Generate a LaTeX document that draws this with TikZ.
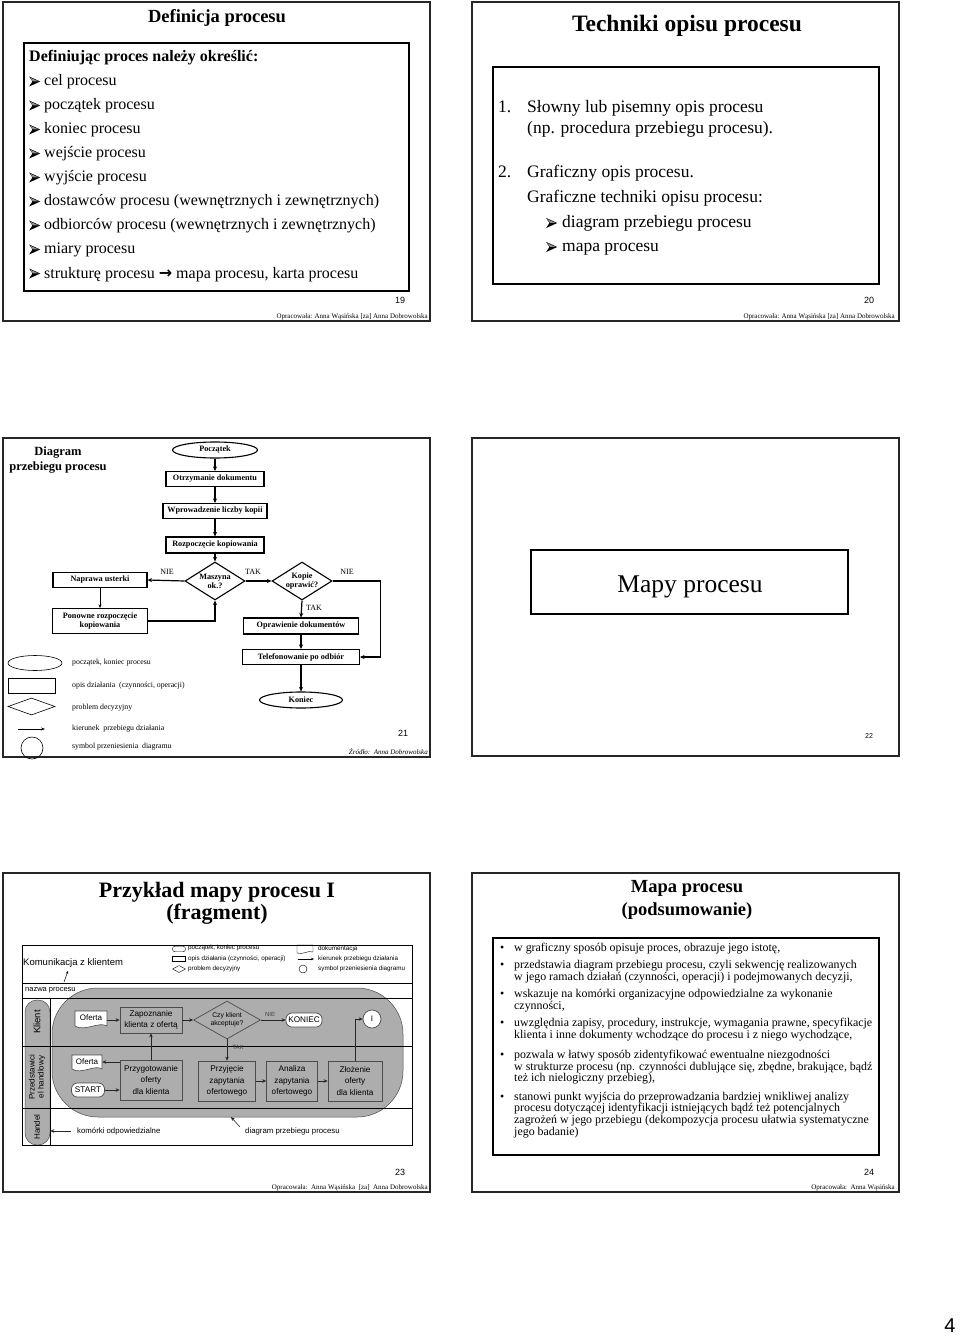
\documentclass[tikz,border=0pt]{standalone}
\usepackage{fontspec}
\setmainfont{Liberation Serif}
\newfontfamily\arial{Liberation Sans}
\newfontfamily\dejavu{DejaVu Sans}
\usetikzlibrary{shapes.geometric,arrows.meta,calc}
\newcommand{\fs}[2]{\fontsize{#1}{#2}\selectfont}
\newcommand{\barr}{\tikz[x=1pt,y=1pt,baseline=0pt]{\fill[black] (0,-0.5) -- (11,4.5) -- (0,9.5) -- (3.2,4.5) -- cycle; \fill[black!45] (0.9,8.4) -- (9.2,4.7) -- (3.6,4.7) -- cycle;}}
\definecolor{areag}{gray}{0.68}
\definecolor{boxl}{gray}{0.3}
\begin{document}
\begin{tikzpicture}[x=1pt,y=-1pt,
  frame/.style={draw=black!85, line width=1.5pt},
  ibox/.style={draw=black, line width=1.3pt},
  fcb/.style={draw, line width=1.1pt, font=\bfseries\fs{8.2}{9}, inner sep=1pt, align=center},
  fce/.style={fcb, ellipse, inner sep=0pt},
  fcd/.style={fcb, diamond, aspect=1.6, inner sep=0pt},
  fca/.style={line width=1.2pt, -{Stealth[length=4.5pt,width=4pt]}},
  fcl/.style={font=\fs{8}{9}, inner sep=0pt},
  lgt/.style={anchor=west, font=\fs{7.8}{9}, inner sep=0pt},
  lgs/.style={draw, line width=0.6pt, inner sep=0pt},
  pnum/.style={font=\arial\fs{9}{10}, inner sep=0pt},
  foot/.style={anchor=base east, font=\fs{7}{8}, inner sep=0pt},
  bl/.style={anchor=base west, inner sep=0pt},
  mbox/.style={draw=boxl, fill=areag, line width=0.7pt, font=\arial\fs{8.2}{11.5}, align=center, inner sep=0pt},
  mround/.style={draw=boxl, fill=white, rounded corners=6, line width=0.7pt, font=\arial\fs{8.2}{9}, inner sep=0pt},
  mar/.style={line width=0.6pt, draw=black!85, -{Stealth[length=4pt,width=3.5pt]}},
  sml/.style={anchor=west, font=\arial\fs{6.3}{7}, inner sep=0pt},
  b24/.style={anchor=base west, inner sep=0pt, font=\fs{11.9}{12}}
]
\useasboundingbox[fill=white] (0,0) rectangle (960,1340);

%% ---------------- slide 19
\draw[frame] (3,2) rectangle (430,321);
\node[anchor=base, font=\bfseries\fs{18.5}{20}] (t19) at (217,22.5) {Definicja procesu};
\draw[ibox] (24,43) rectangle (409,291);
\node[bl, font=\bfseries\fs{16}{18}] (h19) at (29,62) {Definiując proces należy określić:};
\foreach \t [count=\i] in {cel procesu, początek procesu, koniec procesu, wejście procesu, wyjście procesu, dostawców procesu (wewnętrznych i zewnętrznych), odbiorców procesu (wewnętrznych i zewnętrznych), miary procesu, {strukturę procesu {\dejavu\bfseries →} mapa procesu, karta procesu}}
  \node[bl, font=\fs{16}{18}] (b19-\i) at (29,{62+24*\i}) {\barr\hspace{4pt}\t};
\node[pnum] (n19) at (400,300) {19};
\node[foot] (f19) at (428,318.5) {Opracowała: Anna Wąsińska [za] Anna Dobrowolska};

%% ---------------- slide 20
\draw[frame] (472,2) rectangle (899,321);
\node[anchor=base, font=\bfseries\fs{23.5}{25}] (t20) at (687,32) {Techniki opisu procesu};
\draw[ibox] (493,67) rectangle (879,284);
\node[bl, font=\fs{17.5}{19}] (s20a) at (498,112.5) {1.};
\node[bl, font=\fs{17.5}{19}] (s20b) at (527,112.5) {Słowny lub pisemny opis procesu};
\node[bl, font=\fs{17.5}{19}] (s20c) at (527,133.5) {(np. procedura przebiegu procesu).};
\node[bl, font=\fs{17.5}{19}] (s20d) at (498,177.5) {2.};
\node[bl, font=\fs{17.5}{19}] (s20e) at (527,177.5) {Graficzny opis procesu.};
\node[bl, font=\fs{17.5}{19}] (s20f) at (527,203) {Graficzne techniki opisu procesu:};
\node[bl, font=\fs{17.5}{19}] (s20g) at (546,227.5) {\barr\hspace{5pt}diagram przebiegu procesu};
\node[bl, font=\fs{17.5}{19}] (s20h) at (546,251.5) {\barr\hspace{5pt}mapa procesu};
\node[pnum] (n20) at (869,300) {20};
\node[foot] (f20) at (895,318.5) {Opracowała: Anna Wąsińska [za] Anna Dobrowolska};

%% ---------------- slide 21
\draw[frame] (3,438) rectangle (430,757);
\node[anchor=base, font=\bfseries\fs{12.5}{14}] (t21a) at (58,455.5) {Diagram};
\node[anchor=base, font=\bfseries\fs{12.5}{14}] (t21b) at (58,470) {przebiegu procesu};
\node[fce, minimum width=85, minimum height=16] (pocz) at (215,450) {Początek};
\node[fcb, minimum width=98, minimum height=15] (otrz) at (215,479) {Otrzymanie dokumentu};
\node[fcb, minimum width=104, minimum height=15] (wpro) at (215,511) {Wprowadzenie liczby kopii};
\node[fcb, minimum width=98, minimum height=16] (rozp) at (215,545) {Rozpoczęcie kopiowania};
\node[fcd, minimum width=60, minimum height=38] (masz) at (215,581) {Maszyna\\ok.?};
\node[fcb, minimum width=94, minimum height=15] (nap) at (100,580) {Naprawa usterki};
\node[fcb, minimum width=95, minimum height=25] (pon) at (100,621) {Ponowne rozpoczęcie\\kopiowania};
\node[fcd, minimum width=60, minimum height=38] (kop) at (302,581) {Kopie\\oprawić?};
\node[fcb, minimum width=115, minimum height=16] (opr) at (301,626) {Oprawienie dokumentów};
\node[fcb, minimum width=117, minimum height=15] (tel) at (301,657) {Telefonowanie po odbiór};
\node[fce, minimum width=83, minimum height=16] (kon) at (301,700) {Koniec};
\draw[fca] (pocz) -- (otrz);
\draw[fca] (otrz) -- (wpro);
\draw[fca] (wpro) -- (rozp);
\draw[fca] (rozp) -- (masz);
\draw[fca] (masz.west) -- (nap.east);
\draw[fca] (masz.east) -- (kop.west);
\draw[line width=0.6pt, -{Stealth[length=3.5pt,width=3pt]}] (nap) -- (pon);
\draw[fca] (pon.east) -| (masz.south);
\draw[fca] (kop.east) -- ++(48,0) |- (tel.east);
\draw[fca] (kop.south) -- (opr.north);
\draw[fca] (opr) -- (tel);
\draw[fca] (tel) -- (kon);
\node[fcl] (l21a) at (167,572) {NIE};
\node[fcl] (l21b) at (253,572) {TAK};
\node[fcl] (l21c) at (347,572) {NIE};
\node[fcl] (l21d) at (314,608) {TAK};
% legend
\node[lgs, ellipse, minimum width=54, minimum height=15] (le1) at (35,663) {};
\node[lgs, minimum width=47, minimum height=15] (le2) at (31.5,685.5) {};
\node[lgs, diamond, minimum width=47, minimum height=17] (le3) at (31.5,706.5) {};
\coordinate (la1) at (18,729);
\coordinate (la2) at (45,729);
\draw[line width=0.6pt, -{Stealth[length=4pt,width=3pt]}] (la1) -- (la2);
\node[lgs, circle, minimum size=22] (le5) at (32,748) {};
\node[lgt] (lt1) at (72,663) {początek, koniec procesu};
\node[lgt] (lt2) at (72,686) {opis działania\ \ (czynności, operacji)};
\node[lgt] (lt3) at (72,708) {problem decyzyjny};
\node[lgt] (lt4) at (72,729) {kierunek\ \ przebiegu działania};
\node[lgt] (lt5) at (72,747) {symbol przeniesienia\ \ diagramu};
\node[pnum] (n21) at (403,733) {21};
\node[foot, font=\itshape\fs{7}{8}] (f21) at (428,754) {Źródło:\ \ Anna Dobrowolska};

%% ---------------- slide 22
\draw[frame] (472,438) rectangle (899,756);
\draw[ibox] (531,550) rectangle (848,614);
\node[anchor=base, font=\fs{25.5}{27}] (t22) at (690,592) {Mapy procesu};
\node[font=\arial\fs{7}{8}, inner sep=0pt] (n22) at (869,736) {22};

%% ---------------- slide 23
\draw[frame] (3,873) rectangle (430,1192);
\node[anchor=base, font=\bfseries\fs{22}{24}] (t23a) at (217,897.5) {Przykład\ mapy procesu I};
\node[anchor=base, font=\bfseries\fs{22}{24}] (t23b) at (217,919.5) {(fragment)};
\node[draw=boxl, fill=areag, rounded corners=46, minimum width=351, minimum height=129, inner sep=0pt, line width=0.5pt] (area) at (227.5,1052.5) {};
\node[draw=boxl, fill=areag, rounded corners=12, minimum width=25, minimum height=145, inner sep=0pt, line width=0.5pt] (pill) at (37.5,1072.5) {};
\draw[line width=0.7pt] (22,983) -- (412,983);
\draw[line width=0.7pt] (22,998) -- (412,998);
\draw[line width=0.7pt] (22,1046) -- (412,1046);
\draw[line width=0.7pt] (22,1108) -- (412,1108);
\draw[line width=0.7pt] (50,998) -- (50,1145);
\draw[line width=0.8pt] (22,945) rectangle (412,1145);
\node[rotate=90, font=\arial\fs{9.5}{10}] (lk) at (37,1022) {Klient};
\node[rotate=90, font=\arial\fs{8}{9}, align=center] (lp) at (37,1077) {Przedstawici\\el handlowy};
\node[rotate=90, font=\arial\fs{8}{9}] (lh) at (37,1127) {Handel};
% header
\node[anchor=west, font=\arial\fs{9.5}{10}, inner sep=0pt] (kzk) at (23,963) {Komunikacja z klientem};
\node[anchor=west, font=\arial\fs{7.5}{8}, inner sep=0pt] (npr) at (25,990) {nazwa procesu};
\coordinate (npa) at (64,982);
\coordinate (npb) at (68,971);
\draw[line width=0.5pt, -{Stealth[length=3pt,width=2.5pt]}] (npa) -- (npb);
\node[draw, rounded corners=2.5, minimum width=13, minimum height=5.5, inner sep=0pt, line width=0.4pt] (hl1) at (179,949) {};
\node[draw, minimum width=13, minimum height=5, inner sep=0pt, line width=0.4pt] (hl2) at (179,959) {};
\node[draw, diamond, minimum width=13, minimum height=7, inner sep=0pt, line width=0.4pt] (hl3) at (179,969) {};
\node[sml] (ht1) at (188,948) {początek, koniec procesu};
\node[sml] (ht2) at (188,959) {opis działania (czynności, operacji)};
\node[sml] (ht3) at (188,969) {problem decyzyjny};
\draw[line width=0.4pt] (297,945) -- (313,945) -- (313,952) .. controls (308,950) and (303,955) .. (297,953) -- cycle;
\coordinate (ha1) at (298,959);
\coordinate (ha2) at (314,959);
\draw[line width=0.4pt, -{Stealth[length=3pt,width=2.5pt]}] (ha1) -- (ha2);
\node[draw, circle, minimum size=8, inner sep=0pt, line width=0.4pt] (hl6) at (303,969) {};
\node[sml] (ht4) at (318,949) {dokumentacja};
\node[sml] (ht5) at (318,959) {kierunek przebiegu działania};
\node[sml] (ht6) at (318,969) {symbol przeniesienia diagramu};
% lane elements
\draw[draw=boxl, fill=white, line width=0.6pt] (75,1011) -- (107,1011) -- (107,1026) .. controls (99,1021) and (85,1032) .. (75,1026) -- cycle;
\node[minimum width=32, minimum height=14, inner sep=0pt, font=\arial\fs{8}{9}] (of1) at (91,1018) {Oferta};
\draw[draw=boxl, fill=white, line width=0.6pt] (72,1055) -- (102,1055) -- (102,1069) .. controls (95,1064) and (81,1075) .. (72,1069) -- cycle;
\node[minimum width=30, minimum height=14, inner sep=0pt, font=\arial\fs{8}{9}] (of2) at (87,1062) {Oferta};
\node[mbox, minimum width=62, minimum height=26] (zap) at (151,1020) {Zapoznanie\\klienta z ofertą};
\node[draw=boxl, fill=areag, diamond, aspect=1.8, minimum width=67, minimum height=38, inner sep=0pt, line width=0.7pt, font=\arial\fs{6.8}{8}, align=center] (czy) at (227,1020) {Czy klient\\akceptuje?};
\node[mround, minimum width=36, minimum height=14] (konc) at (304,1020) {KONIEC};
\node[draw=boxl, fill=white, circle, minimum size=18, inner sep=0pt, line width=0.7pt, font=\arial\fs{8}{9}] (ci) at (372,1019) {I};
\node[mround, minimum width=33, minimum height=14] (start) at (88,1090) {START};
\node[mbox, minimum width=62, minimum height=40] (przyg) at (151,1080) {Przygotowanie\\oferty\\dla klienta};
\node[mbox, minimum width=57, minimum height=40] (przyj) at (227,1081) {Przyjęcie\\zapytania\\ofertowego};
\node[mbox, minimum width=51, minimum height=40] (anal) at (292,1081) {Analiza\\zapytania\\ofertowego};
\node[mbox, minimum width=54, minimum height=40] (zloz) at (355,1081) {Złożenie\\oferty\\dla klienta};
\draw[mar] (of1.east |- zap.west) -- (zap.west);
\draw[mar] (zap.east) -- (czy.west);
\draw[mar] (czy.east) -- (konc.west);
\draw[mar] (zloz.north) |- (ci.west);
\draw[mar] (przyg.north) -- (zap.south);
\draw[mar] (of2.east -| przyg.west) -- (of2.east);
\draw[mar] (start.east) -- (start.east -| przyg.west);
\draw[mar] (czy.south) -- (przyj.north);
\draw[mar] (przyj.east) -- (anal.west);
\draw[mar] (anal.east) -- (zloz.west);
\node[font=\arial\fs{6}{7}, text=black!75, inner sep=0pt] (nie23) at (270,1014) {NIE};
\node[font=\arial\fs{6}{7}, text=black!75, inner sep=0pt] (tak23) at (238,1047) {TAK};
\node[anchor=west, font=\arial\fs{7.8}{9}, inner sep=0pt] (kom) at (77,1131) {komórki odpowiedzialne};
\draw[mar] ([xshift=-6pt]kom.west) -- (kom.west -| pill.east);
\node[anchor=west, font=\arial\fs{7.8}{9}, inner sep=0pt] (dpp) at (245,1131) {diagram przebiegu procesu};
\coordinate (dpt) at (231,1117);
\draw[mar] ([xshift=-5pt,yshift=4pt]dpp.west) -- (dpt);
\node[pnum] (n23) at (400,1172) {23};
\node[foot] (f23) at (428,1189) {Opracowała:\ \ Anna Wąsińska\ \ [za]\ \ Anna Dobrowolska};

%% ---------------- slide 24
\draw[frame] (472,873) rectangle (899,1192);
\node[anchor=base, font=\bfseries\fs{18.5}{20}] (t24a) at (687,892.5) {Mapa procesu};
\node[anchor=base, font=\bfseries\fs{18.5}{20}] (t24b) at (687,915.5) {(podsumowanie)};
\draw[ibox] (493,938) rectangle (879,1155);
\foreach \yb/\nm in {951.5/a, 968.5/b, 997.5/c, 1026.5/d, 1058.5/e, 1100.5/f}
  \node[b24] (bul-\nm) at (500,\yb) {•};
\node[b24] (l24a) at (514,951.5) {w graficzny sposób opisuje proces, obrazuje jego istotę,};
\node[b24] (l24b) at (514,968.5) {przedstawia diagram przebiegu procesu, czyli sekwencję realizowanych};
\node[b24] (l24c) at (514,980.5) {w jego ramach działań (czynności, operacji) i podejmowanych decyzji,};
\node[b24] (l24d) at (514,997.5) {wskazuje na komórki organizacyjne odpowiedzialne za wykonanie};
\node[b24] (l24e) at (514,1009.5) {czynności,};
\node[b24] (l24f) at (514,1026.5) {uwzględnia zapisy, procedury, instrukcje, wymagania prawne, specyfikacje};
\node[b24] (l24g) at (514,1038.5) {klienta i inne dokumenty wchodzące do procesu i z niego wychodzące,};
\node[b24] (l24h) at (514,1058.5) {pozwala w łatwy sposób zidentyfikować ewentualne niezgodności};
\node[b24] (l24i) at (514,1070.5) {w strukturze procesu (np. czynności dublujące się, zbędne, brakujące,\ bądź};
\node[b24] (l24j) at (514,1081.5) {też ich nielogiczny przebieg),};
\node[b24] (l24k) at (514,1100.5) {stanowi punkt wyjścia do przeprowadzania bardziej wnikliwej analizy};
\node[b24] (l24l) at (514,1111.5) {procesu dotyczącej identyfikacji istniejących bądź też potencjalnych};
\node[b24] (l24m) at (514,1123.5) {zagrożeń w jego przebiegu (dekompozycja procesu ułatwia systematyczne};
\node[b24] (l24n) at (514,1135.5) {jego badanie)};
\node[pnum] (n24) at (869,1172) {24};
\node[foot] (f24) at (895,1189) {Opracowała:\ \ Anna Wąsińska};

%% page number
\node[font=\arial\fs{20}{22}, inner sep=0pt] (pg) at (950,1326) {4};
\end{tikzpicture}
\end{document}
